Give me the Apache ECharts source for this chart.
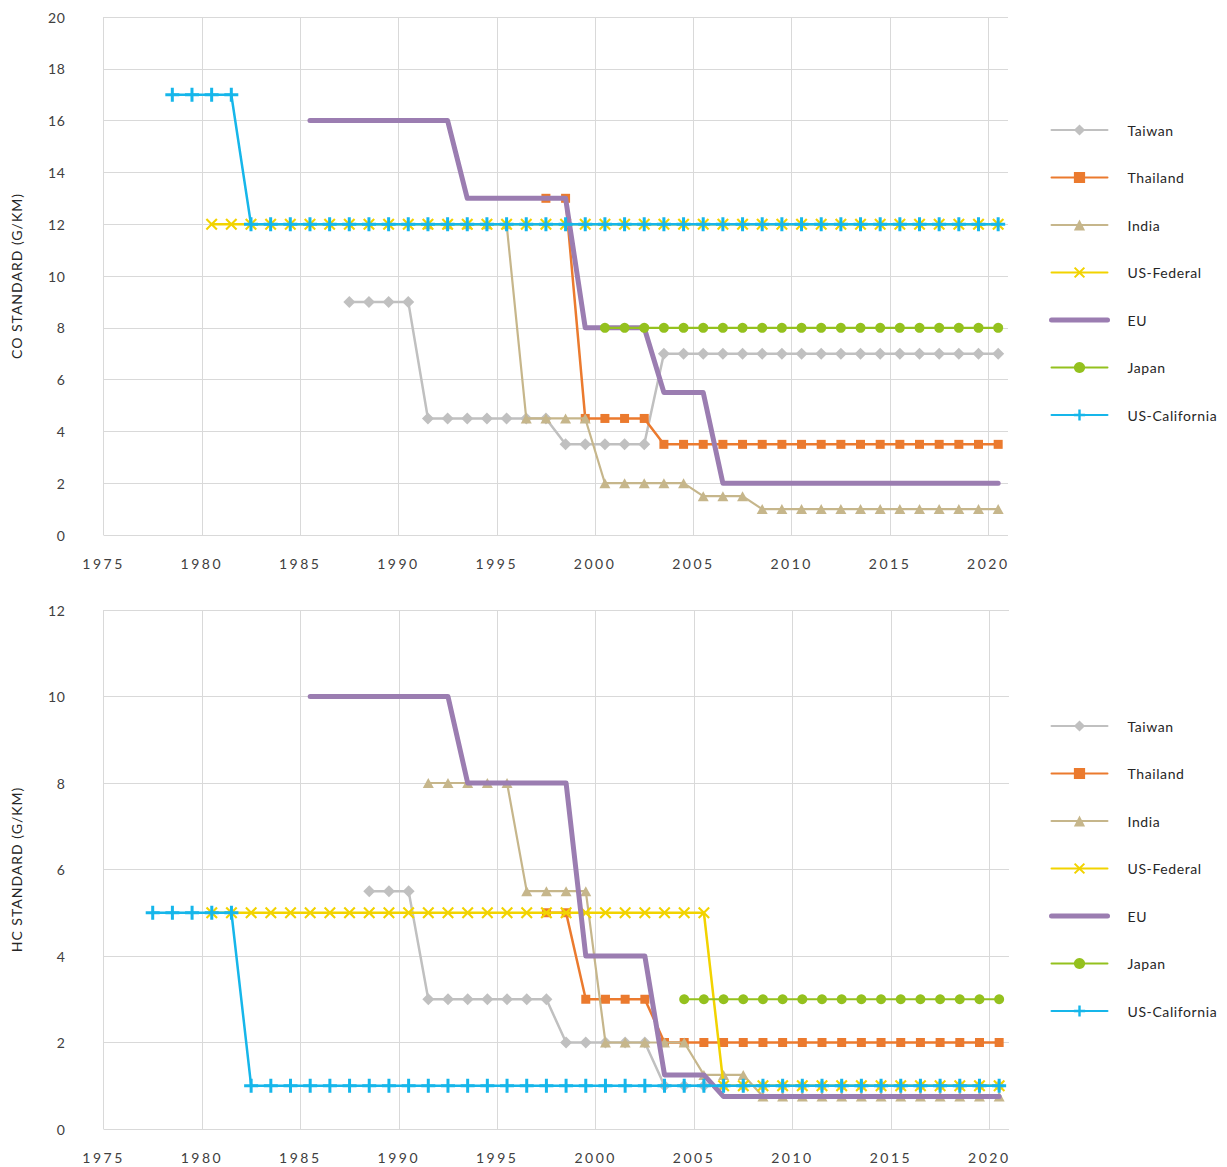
<!DOCTYPE html>
<html>
<head>
<meta charset="utf-8">
<title>CO and HC emission standards</title>
<script src="https://cdn.jsdelivr.net/npm/echarts@6/dist/echarts.min.js"></script>
<style>
  html, body { margin: 0; padding: 0; background: #fff; }
  #myChart { width: 1227px; height: 1167px; }
  #myChart text { letter-spacing: 0.6px; }
</style>
</head>
<body>
<div id="myChart"></div>
<script>
// series names, in legend order
const names = ["Taiwan", "Thailand", "India", "US-Federal", "EU", "Japan", "US-California"];

// CO standard (g/km), one value per year starting at the first year
const coStart = { "Taiwan": 1987, "Thailand": 1997, "India": 1991, "US-Federal": 1980, "EU": 1985, "Japan": 2000, "US-California": 1978 };
const coTaiwan = [9, 9, 9, 9, 4.5, 4.5, 4.5, 4.5, 4.5, 4.5, 4.5, 3.5, 3.5, 3.5, 3.5, 3.5,
  7, 7, 7, 7, 7, 7, 7, 7, 7, 7, 7, 7, 7, 7, 7, 7, 7, 7];
const coThailand = [13, 13, 4.5, 4.5, 4.5, 4.5,
  3.5, 3.5, 3.5, 3.5, 3.5, 3.5, 3.5, 3.5, 3.5, 3.5, 3.5, 3.5, 3.5, 3.5, 3.5, 3.5, 3.5, 3.5];
const coIndia = [12, 12, 12, 12, 12, 4.5, 4.5, 4.5, 4.5, 2, 2, 2, 2, 2, 1.5, 1.5, 1.5,
  1, 1, 1, 1, 1, 1, 1, 1, 1, 1, 1, 1, 1];
const coUSFederal = [12, 12, 12, 12, 12, 12, 12, 12, 12, 12, 12, 12, 12, 12, 12, 12, 12, 12, 12, 12,
  12, 12, 12, 12, 12, 12, 12, 12, 12, 12, 12, 12, 12, 12, 12, 12, 12, 12, 12, 12, 12];
const coEU = [16, 16, 16, 16, 16, 16, 16, 16, 13, 13, 13, 13, 13, 13, 8, 8, 8, 8, 5.5, 5.5, 5.5,
  2, 2, 2, 2, 2, 2, 2, 2, 2, 2, 2, 2, 2, 2, 2];
const coJapan = [8, 8, 8, 8, 8, 8, 8, 8, 8, 8, 8, 8, 8, 8, 8, 8, 8, 8, 8, 8, 8];
const coUSCalifornia = [17, 17, 17, 17, 12, 12, 12, 12, 12, 12, 12, 12, 12, 12, 12, 12, 12, 12, 12, 12,
  12, 12, 12, 12, 12, 12, 12, 12, 12, 12, 12, 12, 12, 12, 12, 12, 12, 12, 12, 12, 12, 12, 12];

// HC standard (g/km)
const hcStart = { "Taiwan": 1988, "Thailand": 1997, "India": 1991, "US-Federal": 1980, "EU": 1985, "Japan": 2004, "US-California": 1977 };
const hcTaiwan = [5.5, 5.5, 5.5, 3, 3, 3, 3, 3, 3, 3, 2, 2, 2, 2, 2,
  1, 1, 1, 1, 1, 1, 1, 1, 1, 1, 1, 1, 1, 1, 1, 1, 1, 1];
const hcThailand = [5, 5, 3, 3, 3, 3,
  2, 2, 2, 2, 2, 2, 2, 2, 2, 2, 2, 2, 2, 2, 2, 2, 2, 2];
const hcIndia = [8, 8, 8, 8, 8, 5.5, 5.5, 5.5, 5.5, 2, 2, 2, 2, 2, 1.25, 1.25, 1.25,
  0.75, 0.75, 0.75, 0.75, 0.75, 0.75, 0.75, 0.75, 0.75, 0.75, 0.75, 0.75, 0.75];
const hcUSFederal = [5, 5, 5, 5, 5, 5, 5, 5, 5, 5, 5, 5, 5, 5, 5, 5, 5, 5, 5, 5, 5, 5, 5, 5, 5, 5,
  1, 1, 1, 1, 1, 1, 1, 1, 1, 1, 1, 1, 1, 1, 1];
const hcEU = [10, 10, 10, 10, 10, 10, 10, 10, 8, 8, 8, 8, 8, 8, 4, 4, 4, 4, 1.25, 1.25, 1.25,
  0.75, 0.75, 0.75, 0.75, 0.75, 0.75, 0.75, 0.75, 0.75, 0.75, 0.75, 0.75, 0.75, 0.75, 0.75];
const hcJapan = [3, 3, 3, 3, 3, 3, 3, 3, 3, 3, 3, 3, 3, 3, 3, 3, 3];
const hcUSCalifornia = [5, 5, 5, 5, 5, 1, 1, 1, 1, 1, 1, 1, 1, 1, 1, 1, 1, 1, 1, 1, 1, 1, 1, 1,
  1, 1, 1, 1, 1, 1, 1, 1, 1, 1, 1, 1, 1, 1, 1, 1, 1, 1, 1, 1];

const coValues = [coTaiwan, coThailand, coIndia, coUSFederal, coEU, coJapan, coUSCalifornia];
const hcValues = [hcTaiwan, hcThailand, hcIndia, hcUSFederal, hcEU, hcJapan, hcUSCalifornia];

// axis ranges
const xMin = 1975, xMax = 2021, xStep = 5;
const coMax = 20, hcMax = 12, yStep = 2;

// look of each series
const looks = {
  "Taiwan": { color: "#c0c0c0", width: 2.5, symbol: "diamond", size: [12, 12] },
  "Thailand": { color: "#eb7a2e", width: 2.5, symbol: "rect", size: [9, 9] },
  "India": { color: "#c6b68b", width: 2.2, symbol: "triangle", size: [11, 10] },
  "US-Federal": { color: "#f2d300", width: 2.5, symbol: "path://M0,1.5 L1.5,0 L6,4.5 L10.5,0 L12,1.5 L7.5,6 L12,10.5 L10.5,12 L6,7.5 L1.5,12 L0,10.5 L4.5,6 Z", size: [12, 12] },
  "EU": { color: "#9b7db1", width: 5, symbol: "none", size: 0 },
  "Japan": { color: "#94c11e", width: 2.2, symbol: "circle", size: 10 },
  "US-California": { color: "#16b6ea", width: 2.5, symbol: "path://M0,5.5 H5.5 V0 H8.5 V5.5 H14 V8.5 H8.5 V14 H5.5 V8.5 H0 Z", size: [14, 14] },
};

const font = "Lato, 'Noto Sans', sans-serif";
const myEcharts = echarts.init(document.getElementById("myChart"), null, { renderer: "svg" });

function makeSeries(values, starts, idx) {
  return names.map((name, i) => {
    const look = looks[name];
    // each standard is plotted at the middle of its year
    const data = values[i].map((v, k) => [starts[name] + k + 0.5, v]);
    return {
      name: name,
      type: "line",
      xAxisIndex: idx,
      yAxisIndex: idx,
      data: data,
      symbol: look.symbol,
      symbolSize: look.size,
      showSymbol: look.symbol !== "none",
      itemStyle: { color: look.color },
      lineStyle: { color: look.color, width: look.width, cap: "round", join: "round" },
      emphasis: { disabled: true },
      z: 2 + i * 0.01,
    };
  });
}

function makeXAxis(idx) {
  return {
    type: "value",
    gridIndex: idx,
    min: xMin,
    max: xMax,
    interval: xStep,
    axisLine: { show: false },
    axisTick: { show: false },
    axisLabel: {
      color: "#404040", fontSize: 14, fontFamily: font, margin: 21, showMaxLabel: false,
      formatter: (v) => String(v),
    },
    splitLine: { show: true, showMaxLine: false, lineStyle: { color: "#d9d9d9", width: 1 } },
  };
}

function makeYAxis(idx, max, title) {
  return {
    type: "value",
    gridIndex: idx,
    min: 0,
    max: max,
    interval: yStep,
    name: title,
    nameLocation: "middle",
    nameGap: 80,
    nameTextStyle: { color: "#262626", fontSize: 14, fontFamily: font },
    axisLine: { show: false },
    axisTick: { show: false },
    axisLabel: { color: "#404040", fontSize: 14, fontFamily: font, margin: 38 },
    splitLine: { show: true, lineStyle: { color: "#d9d9d9", width: 1 } },
  };
}

function makeLegend(top) {
  return {
    orient: "vertical",
    left: 1044,
    top: top,
    itemWidth: 56,
    itemHeight: 14,
    itemGap: 33.5,
    selectedMode: false,
    textStyle: { color: "#262626", fontSize: 14, fontFamily: font, padding: [0, 0, 0, 15] },
    data: names.map((n) => n === "EU"
      ? { name: n, lineStyle: { width: 5, cap: "round" }, itemStyle: { color: "rgba(0,0,0,0)", opacity: 0 } }
      : { name: n }),
  };
}

let option = {
  backgroundColor: "#ffffff",
  animation: false,
  legend: [makeLegend(118), makeLegend(714)],
  grid: [
    { left: 103.5, top: 17, width: 904.5, height: 518 },
    { left: 103.5, top: 610, width: 905.5, height: 519 },
  ],
  xAxis: [makeXAxis(0), makeXAxis(1)],
  yAxis: [makeYAxis(0, coMax, "CO STANDARD (G/KM)"), makeYAxis(1, hcMax, "HC STANDARD (G/KM)")],
  series: makeSeries(coValues, coStart, 0).concat(makeSeries(hcValues, hcStart, 1)),
};

myEcharts.setOption(option);

// wider tracking on the year labels, like the original
document.querySelectorAll("#myChart text").forEach((t) => {
  if (/^\d{4}$/.test(t.textContent)) t.style.letterSpacing = "2.5px";
  else if (/STANDARD/.test(t.textContent)) t.style.letterSpacing = "1px";
});

window.onresize = function () {
  myEcharts.resize();
};
</script>
</body>
</html>
